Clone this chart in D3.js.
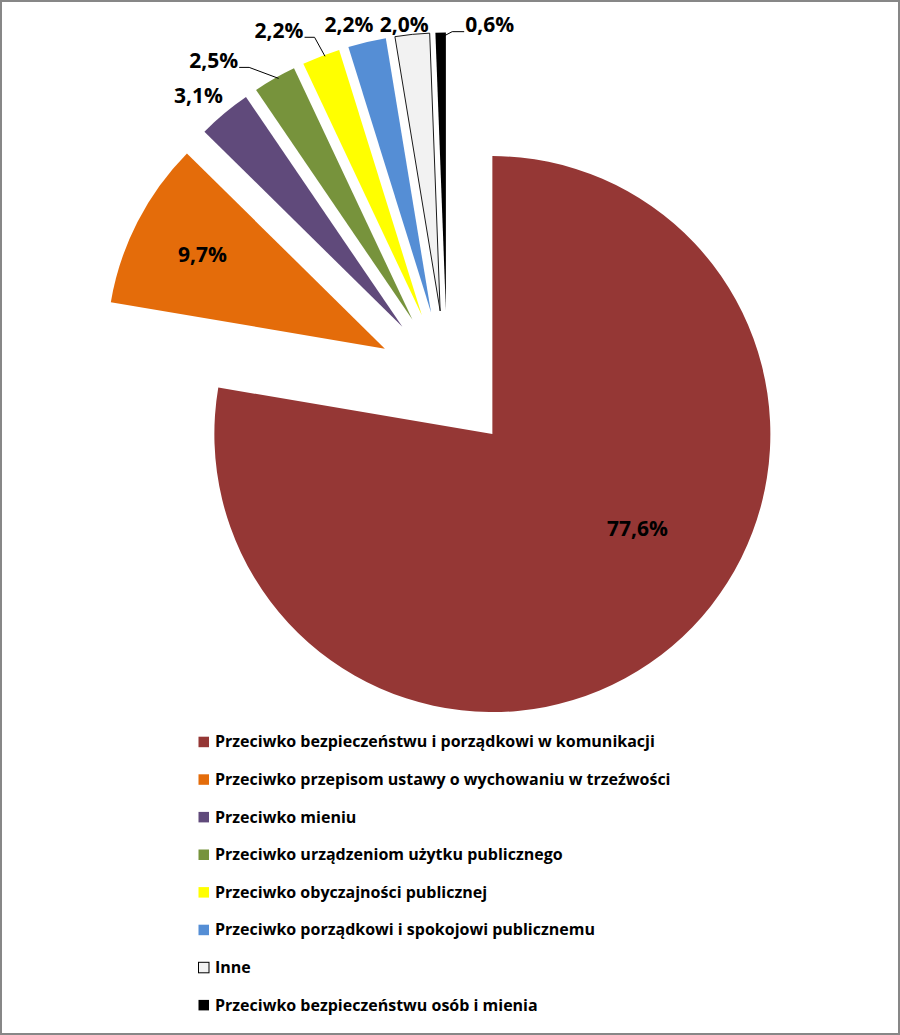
<!DOCTYPE html>
<html>
<head>
<meta charset="utf-8">
<script src="https://cdn.jsdelivr.net/npm/d3@7"></script>
<style>
  html, body { margin: 0; padding: 0; background: #fff; }
  svg { display: block; }
</style>
</head>
<body>
<svg id="chart" width="900" height="1035"></svg>
<script>
// ---- data ----
const categories = [
  "Przeciwko bezpieczeństwu i porządkowi w komunikacji",
  "Przeciwko przepisom ustawy o wychowaniu w trzeźwości",
  "Przeciwko mieniu",
  "Przeciwko urządzeniom użytku publicznego",
  "Przeciwko obyczajności publicznej",
  "Przeciwko porządkowi i spokojowi publicznemu",
  "Inne",
  "Przeciwko bezpieczeństwu osób i mienia"
];
const values = [77.6, 9.7, 3.1, 2.5, 2.2, 2.2, 2.0, 0.6];
const valueLabels = ["77,6%", "9,7%", "3,1%", "2,5%", "2,2%", "2,2%", "2,0%", "0,6%"];
const colors = ["#953735", "#E46C0A", "#604A7B", "#77933C", "#FFFF00", "#558ED5", "#F2F2F2", "#000000"];

// ---- layout ----
const W = 900, H = 1035;
const cx = 447.2, cy = 380.6, R = 278, explode = 70;
const FONT = "'Open Sans', 'DejaVu Sans', sans-serif";

// label placement: inside labels offset from centroid; outside labels offset from outer mid point
const labelLayout = [
  {inside: true, dx: 34, dy: -37},
  {inside: true, dx: -29, dy: -16},
  {inside: false, dx: -26, dy: -18},
  {inside: false, dx: -61, dy: -18, leader: "right"},
  {inside: false, dx: -42, dy: -26, leader: "right"},
  {inside: false, dx: -18, dy: -18},
  {inside: false, dx: -8, dy: -10},
  {inside: false, dx: 49, dy: -8, leader: "left"}
];

const svg = d3.select("#chart");

svg.append("rect").attr("x", 1).attr("y", 1).attr("width", W - 2).attr("height", H - 2)
  .attr("fill", "#fff").attr("stroke", "#878787").attr("stroke-width", 2);

const pie = d3.pie().sort(null).value(d => d)
  .startAngle(0).endAngle(2 * Math.PI);
const arcs = pie(values);
const arc = d3.arc().innerRadius(0).outerRadius(R);

const dir = a => [Math.sin(a), -Math.cos(a)];

const g = svg.append("g").attr("transform", `translate(${cx},${cy})`);

const slices = g.selectAll("g.slice").data(arcs).enter().append("g")
  .attr("class", "slice")
  .attr("transform", d => {
    const m = (d.startAngle + d.endAngle) / 2;
    const [ux, uy] = dir(m);
    return `translate(${ux * explode},${uy * explode})`;
  });

slices.append("path")
  .attr("d", arc)
  .attr("fill", (d, i) => colors[i])
  .attr("stroke", (d, i) => i === 6 ? "#1a1a1a" : "none")
  .attr("stroke-width", 1);

// labels
const labelG = svg.append("g").attr("transform", `translate(${cx},${cy})`);
arcs.forEach((d, i) => {
  const m = (d.startAngle + d.endAngle) / 2;
  const [ux, uy] = dir(m);
  const L = labelLayout[i];
  let x, y;
  if (L.inside) {
    const r = 0.62 * R + explode;
    x = ux * r + L.dx; y = uy * r + L.dy;
  } else {
    const r = R + explode;
    x = ux * r + L.dx; y = uy * r + L.dy;
  }
  const t = labelG.append("text")
    .attr("x", x).attr("y", y).attr("dy", "0.36em")
    .attr("text-anchor", "middle")
    .attr("font-family", FONT).attr("font-weight", "bold")
    .attr("font-size", 21)
    .attr("fill", "#000")
    .text(valueLabels[i]);
  if (L.leader) {
    const bb = t.node().getBBox();
    const ox = ux * (R + explode), oy = uy * (R + explode);
    const ly = y + 7;
    let pts;
    if (L.leader === "right") {
      const x0 = bb.x + bb.width + 1;
      pts = [[x0, ly], [x0 + 10, ly], [ox + 4, oy]];
    } else {
      const x0 = bb.x - 1;
      pts = [[x0, ly], [x0 - 12, ly], [ox + 4, oy + 3]];
    }
    labelG.append("path")
      .attr("d", d3.line()(pts))
      .attr("fill", "none").attr("stroke", "#000").attr("stroke-width", 1);
  }
});

// legend
const legendX = 198, legendY0 = 741.7, legendStep = 37.6;
const leg = svg.append("g");
const items = leg.selectAll("g").data(categories).enter().append("g")
  .attr("transform", (d, i) => `translate(${legendX},${legendY0 + i * legendStep})`);
items.append("rect")
  .attr("x", 0.5).attr("y", -5).attr("width", 10.5).attr("height", 10.5)
  .attr("fill", (d, i) => colors[i])
  .attr("stroke", (d, i) => i === 6 ? "#000" : "none").attr("stroke-width", 1);
items.append("text")
  .attr("x", 17).attr("y", 0).attr("dy", "0.36em")
  .attr("font-family", FONT).attr("font-weight", "bold")
  .attr("font-size", 16)
  .attr("fill", "#000")
  .text(d => d);
</script>
</body>
</html>
